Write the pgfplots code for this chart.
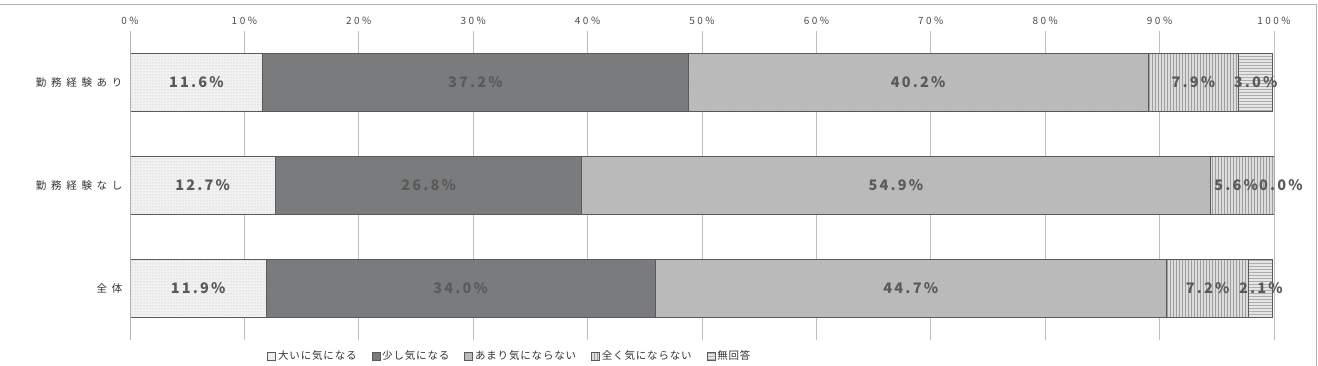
\documentclass[border=0pt]{standalone}
\usepackage{fontspec}
\setmainfont{Noto Sans CJK JP}
\newfontfamily\widefont[LetterSpace=45]{Noto Sans CJK JP}
\newfontfamily\labfont[LetterSpace=25]{Noto Sans CJK JP}
\newfontfamily\barfont[LetterSpace=15]{Noto Sans CJK JP}
\newfontfamily\legfont[LetterSpace=8]{Noto Sans CJK JP}
\usepackage{pgfplots}
\pgfplotsset{compat=1.18}
\usetikzlibrary{patterns}
\definecolor{cA}{HTML}{F2F2F2}
\definecolor{cB}{HTML}{7A7B7D}
\definecolor{cC}{HTML}{BCBCBC}
\definecolor{cD}{HTML}{DCDCDC}
\definecolor{cE}{HTML}{E6E6E6}
\definecolor{edge}{HTML}{5A5A5A}
\definecolor{grid}{HTML}{B0B0B0}
\definecolor{txt}{HTML}{5A5A5A}
\begin{document}
\begin{tikzpicture}[x=1pt,y=1pt]
\useasboundingbox (0,0) rectangle (1318,366);
\draw[gray!60, line width=1pt] (0,361) -- (1316,361) -- (1316,0);
\begin{axis}[
  at={(130pt,26pt)}, anchor=south west,
  scale only axis, width=1144pt, height=309pt,
  xbar stacked, bar width=58pt,
  xmin=0, xmax=100, ymin=-0.5, ymax=2.5, y dir=reverse,
  ytick={0,1,2}, yticklabels={勤務経験あり,勤務経験なし,全体},
  yticklabel style={font=\widefont\fontsize{10.5}{12}\selectfont, text=black!80, xshift=-4pt},
  xtick={0,10,...,100},
  xticklabel={\pgfmathprintnumber{\tick}\%},
  xticklabel pos=upper,
  xticklabel style={font=\labfont\fontsize{10}{11}\selectfont, text=black!70, yshift=3pt},
  /pgf/number format/assume math mode=true,
  xmajorgrids, grid style={grid, line width=0.8pt},
  axis line style={draw=none},
  major tick length=0pt,
  legend columns=5,
  legend style={draw=none, at={(0.12,-0.052)}, anchor=west,
    font=\legfont\fontsize{10.5}{12}\selectfont, text=black!80,
    /tikz/every even column/.append style={column sep=13pt},
    inner sep=0pt},
  legend image code/.code={\draw[#1,line width=0.6pt] (0pt,-4pt) rectangle (8pt,4pt);},
]
\addplot[fill=cA, draw=edge, line width=0.8pt, postaction={pattern=dots, pattern color=gray!55}] coordinates {(11.6,0) (12.7,1) (11.9,2)};
\addplot[fill=cB, draw=edge, line width=0.8pt] coordinates {(37.2,0) (26.8,1) (34.0,2)};
\addplot[fill=cC, draw=edge, line width=0.8pt, postaction={pattern=north east lines, pattern color=gray!55}] coordinates {(40.2,0) (54.9,1) (44.7,2)};
\addplot[fill=cD, draw=edge, line width=0.8pt, postaction={pattern=vertical lines, pattern color=gray!75}] coordinates {(7.9,0) (5.6,1) (7.2,2)};
\addplot[fill=cE, draw=edge, line width=0.8pt, postaction={pattern=horizontal lines, pattern color=gray!65}] coordinates {(3.0,0) (0.0,1) (2.1,2)};
\legend{大いに気になる,少し気になる,あまり気にならない,全く気にならない,無回答}
\end{axis}
\draw[grid, line width=0.8pt] (130,26) -- (130,335);
\begin{axis}[
  at={(130pt,26pt)}, anchor=south west,
  scale only axis, width=1144pt, height=309pt,
  xmin=0, xmax=100, ymin=-0.5, ymax=2.5, y dir=reverse,
  hide axis, clip=false,
]
\addplot[draw=none, mark=none, nodes near coords, point meta=explicit symbolic,
  every node near coord/.append style={anchor=center, font=\barfont\fontsize{14.5}{15}\selectfont\bfseries, text=txt}]
  coordinates {
  (5.8,0) [11.6\%] (30.2,0) [37.2\%] (68.9,0) [40.2\%] (92.95,0) [7.9\%] (98.4,0) [3.0\%]
  (6.35,1) [12.7\%] (26.1,1) [26.8\%] (66.95,1) [54.9\%] (96.7,1) [5.6\%] (100.6,1) [0.0\%]
  (5.95,2) [11.9\%] (28.9,2) [34.0\%] (68.25,2) [44.7\%] (94.2,2) [7.2\%] (98.85,2) [2.1\%]
  };
\end{axis}
\end{tikzpicture}
\end{document}
